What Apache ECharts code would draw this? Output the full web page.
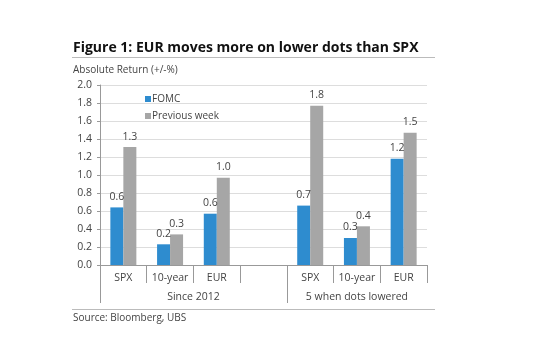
<!DOCTYPE html>
<html>
<head>
<meta charset="utf-8">
<script src="https://cdn.jsdelivr.net/npm/echarts@6/dist/echarts.min.js"></script>
<style>html,body{margin:0;padding:0;background:#fff;}#c{width:538px;height:343px;}</style>
</head>
<body>
<div id="c"></div>
<script>
var categories = ['SPX', '10-year', 'EUR', '', 'SPX', '10-year', 'EUR'];
var groupLabels = ['', '', '', '', 'Since 2012', '', '', '', '', '', '', '5 when dots lowered', '', '', ''];
var fomc = [0.64, 0.23, 0.57, null, 0.66, 0.30, 1.18];
var prevWeek = [1.31, 0.34, 0.97, null, 1.77, 0.43, 1.47];
var yTicks = [0, 2, 0.2];

var FONT = '"Open Sans", "Noto Sans", sans-serif';
var chart = echarts.init(document.getElementById('c'), null, {renderer: 'canvas'});
function lbl(p) { return p.value == null ? '' : p.value.toFixed(1); }
chart.setOption({
  animation: false,
  backgroundColor: '#fff',
  textStyle: {fontFamily: FONT},
  title: [
    {text: 'Figure 1: EUR moves more on lower dots than SPX', left: 68, top: 36,
     textStyle: {fontSize: 14, fontWeight: 'bold', color: '#111', fontFamily: FONT}},
    {text: 'Absolute Return (+/-%)', left: 68, top: 60,
     textStyle: {fontSize: 10, fontWeight: 'normal', color: '#444', fontFamily: FONT}},
    {text: 'Source: Bloomberg, UBS', left: 68, top: 308,
     textStyle: {fontSize: 10, fontWeight: 'normal', color: '#444', fontFamily: FONT}}
  ],
  graphic: [
    {type: 'line', shape: {x1: 72, y1: 57.5, x2: 435, y2: 57.5}, style: {stroke: '#bbb', lineWidth: 1}},
    {type: 'line', shape: {x1: 72, y1: 309.5, x2: 435, y2: 309.5}, style: {stroke: '#bbb', lineWidth: 1}}
  ],
  legend: {
    orient: 'vertical', left: 140, top: 89, icon: 'rect', itemWidth: 6, itemHeight: 6, itemGap: 7,
    textStyle: {fontSize: 10, color: '#444', fontFamily: FONT, padding: [0, 0, 0, -4]},
    data: ['FOMC', 'Previous week']
  },
  grid: {left: 100, right: 111, top: 85, bottom: 78, containLabel: false},
  xAxis: [
    {type: 'category', data: categories,
     axisLine: {lineStyle: {color: '#999'}},
     axisTick: {show: true, length: 18, lineStyle: {color: '#999'}},
     axisLabel: {margin: 8, fontSize: 10.5, color: '#444', fontFamily: FONT, interval: 0}},
    {type: 'category', data: groupLabels, boundaryGap: false, position: 'bottom', offset: 18,
     axisLine: {show: false},
     axisTick: {show: true, length: 20, lineStyle: {color: '#999'},
       interval: function (i) { return i === 0 || i === 8; }},
     axisLabel: {margin: 9, fontSize: 10.5, color: '#444', fontFamily: FONT,
       interval: function (i) { return groupLabels[i] !== ''; }}}
  ],
  yAxis: {
    type: 'value', min: yTicks[0], max: yTicks[1], interval: yTicks[2],
    axisLine: {show: true, lineStyle: {color: '#999'}},
    axisTick: {show: true, length: 3, lineStyle: {color: '#999'}},
    axisLabel: {fontSize: 10.5, color: '#444', margin: 8, fontFamily: FONT,
      formatter: function (v) { return v.toFixed(1); }},
    splitLine: {lineStyle: {color: '#ddd'}}
  },
  series: [
    {name: 'FOMC', type: 'bar', data: fomc, barWidth: 13, barGap: '0%',
     itemStyle: {color: '#2e8ccf'},
     label: {show: true, position: 'top', distance: 5, fontSize: 10.5, color: '#444', formatter: lbl}},
    {name: 'Previous week', type: 'bar', data: prevWeek, barWidth: 13, barGap: '0%',
     itemStyle: {color: '#a6a6a6'},
     label: {show: true, position: 'top', distance: 5, fontSize: 10.5, color: '#444', formatter: lbl}}
  ]
});
</script>
</body>
</html>
